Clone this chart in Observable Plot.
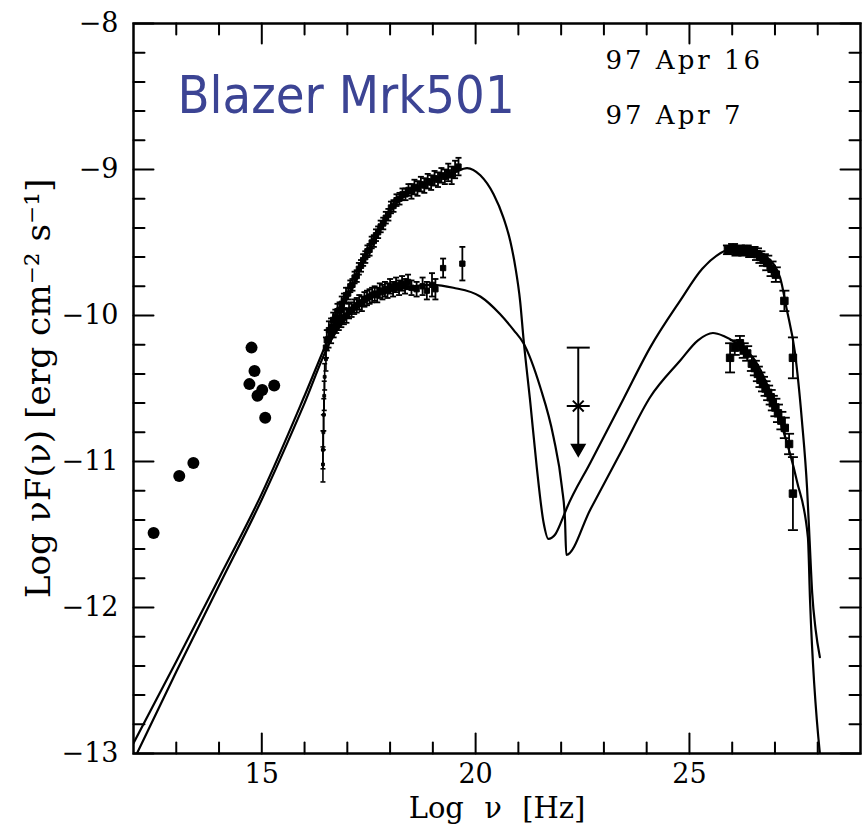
<!DOCTYPE html>
<html><head><meta charset="utf-8">
<script src="https://cdn.jsdelivr.net/npm/d3@7"></script>
<script src="https://cdn.jsdelivr.net/npm/@observablehq/plot@0.6"></script>
<style>
html,body{margin:0;padding:0;background:#fff;}
#chart svg{display:block;}
</style></head><body><div id="chart"></div>
<script>
// ---- tick values ----
const xMajor = [15, 20, 25];
const xMinor = [13, 14, 16, 17, 18, 19, 21, 22, 23, 24, 26, 27, 28];
const yMajor = [-13, -12, -11, -10, -9, -8];
const yMinor = [-12.8, -12.6, -12.4, -12.2, -11.8, -11.6, -11.4, -11.2, -10.8, -10.6, -10.4, -10.2,
                -9.8, -9.6, -9.4, -9.2, -8.8, -8.6, -8.4, -8.2];

// ---- model curve, 97 Apr 16 (log nu, log nuFnu) ----
const modelA_x = [12.0, 13.0, 14.0, 15.0, 16.0, 16.6, 17.0, 17.5, 18.0, 18.5, 19.0, 19.5, 19.8, 20.11, 20.42, 20.65,
  20.81, 20.93, 21.04, 21.12, 21.28, 21.43, 21.59, 21.70, 21.86, 22.02, 22.13, 22.68, 23.46, 24.08, 24.78, 25.3,
  25.88, 26.18, 26.5, 26.81, 27.12, 27.27, 27.47, 27.63, 27.75, 27.81, 27.87, 27.95, 28.05];
const modelA_y = [-12.93, -12.37, -11.80, -11.22, -10.55, -10.13, -9.88, -9.55, -9.28, -9.15, -9.07, -9.02, -8.99, -9.04, -9.17, -9.33,
  -9.49, -9.67, -9.90, -10.16, -10.60, -11.04, -11.42, -11.53, -11.50, -11.40, -11.32, -11.01, -10.57, -10.22, -9.90, -9.68,
  -9.55, -9.53, -9.55, -9.60, -9.74, -9.95, -10.26, -10.72, -11.18, -11.54, -11.90, -12.15, -12.34];

// ---- model curve, 97 Apr 7 ----
const modelB_x = [12.08, 13.0, 14.0, 15.0, 16.0, 16.6, 17.0, 17.37, 17.77, 18.17, 18.54, 19.0, 19.48, 20.11, 20.57,
  20.89, 21.12, 21.51, 21.82, 22.02, 22.09, 22.12, 22.68, 23.46, 24.08, 24.78, 25.2, 25.55, 25.8, 26.1, 26.56,
  27.12, 27.51, 27.77, 27.82, 28.05];
const modelB_y = [-13.0, -12.44, -11.85, -11.26, -10.60, -10.18, -10.01, -9.92, -9.85, -9.82, -9.80, -9.79, -9.81, -9.87, -9.99,
  -10.10, -10.19, -10.49, -10.83, -11.18, -11.40, -11.64, -11.33, -10.90, -10.56, -10.31, -10.17, -10.12, -10.14, -10.19, -10.32,
  -10.72, -11.13, -11.52, -11.95, -13.0];

// ---- radio / optical points ----
const lowX = [12.47, 13.07, 13.40, 14.76, 14.83, 14.71, 15.29, 15.01, 14.90, 15.08];
const lowY = [-11.49, -11.10, -11.01, -10.22, -10.38, -10.47, -10.48, -10.51, -10.55, -10.70];

// ---- X-ray data 97 Apr 16 [logNu, logNuFnu, err] ----
const xrayA = [[16.52,-10.17,0.07],[16.57,-10.10,0.06],[16.62,-10.08,0.06],[16.67,-10.03,0.05],[16.72,-10.01,0.05],
  [16.77,-9.97,0.05],[16.82,-9.96,0.05],[16.87,-9.92,0.05],[16.92,-9.90,0.05],[16.97,-9.86,0.05],[17.02,-9.85,0.04],
  [17.07,-9.80,0.04],[17.12,-9.79,0.04],[17.17,-9.74,0.04],[17.22,-9.73,0.04],[17.27,-9.68,0.04],[17.32,-9.66,0.04],
  [17.37,-9.62,0.04],[17.42,-9.60,0.04],[17.47,-9.56,0.04],[17.52,-9.55,0.04],[17.57,-9.50,0.04],[17.62,-9.49,0.04],
  [17.67,-9.45,0.04],[17.72,-9.43,0.04],[17.78,-9.39,0.04],[17.84,-9.37,0.04],[17.90,-9.33,0.04],[17.96,-9.31,0.04],
  [18.02,-9.26,0.04],[18.08,-9.25,0.04],[18.15,-9.21,0.04],[18.22,-9.20,0.04],[18.29,-9.17,0.04],[18.36,-9.17,0.04],
  [18.43,-9.14,0.04],[18.50,-9.15,0.05],[18.57,-9.12,0.05],[18.64,-9.13,0.05],[18.72,-9.10,0.05],[18.80,-9.11,0.05],
  [18.88,-9.08,0.05],[18.96,-9.09,0.05],[19.04,-9.06,0.05],[19.12,-9.07,0.05],[19.20,-9.04,0.05],[19.28,-9.05,0.05],
  [19.36,-9.02,0.06],[19.44,-9.04,0.06],[19.52,-9.00,0.06],[19.60,-8.98,0.06]];

// ---- X-ray data 97 Apr 7 ----
const xrayB = [[16.50,-10.22,0.07],[16.56,-10.16,0.06],[16.62,-10.13,0.06],[16.68,-10.10,0.05],[16.74,-10.07,0.05],
  [16.80,-10.05,0.05],[16.86,-10.03,0.05],[16.92,-10.01,0.05],[16.98,-10.00,0.05],[17.04,-9.97,0.05],[17.10,-9.96,0.05],
  [17.16,-9.94,0.05],[17.22,-9.93,0.05],[17.28,-9.91,0.05],[17.34,-9.92,0.05],[17.40,-9.89,0.05],[17.46,-9.88,0.05],
  [17.52,-9.87,0.05],[17.58,-9.86,0.05],[17.64,-9.85,0.05],[17.70,-9.86,0.05],[17.76,-9.83,0.05],[17.82,-9.84,0.05],
  [17.88,-9.82,0.05],[17.94,-9.83,0.05],[18.00,-9.80,0.05],[18.07,-9.82,0.05],[18.14,-9.79,0.05],[18.21,-9.81,0.05],
  [18.28,-9.78,0.05],[18.35,-9.80,0.05],[18.42,-9.77,0.05],[18.50,-9.81,0.05],[18.62,-9.82,0.05],[18.76,-9.80,0.06],
  [18.86,-9.83,0.06],[18.98,-9.79,0.08],[19.06,-9.82,0.07],[19.24,-9.675,0.065],[19.69,-9.645,0.115]];

// ---- low-energy LECS points (97 Apr 7) ----
const lecs = [[16.50,-10.30,0.08],[16.47,-10.42,0.09],[16.46,-10.55,0.10],[16.45,-10.68,0.11],
  [16.44,-10.80,0.12],[16.43,-10.92,0.13],[16.43,-11.02,0.12]];

// ---- TeV data 97 Apr 16 ----
const tevA = [[25.90,-9.55,0.03],[26.02,-9.54,0.03],[26.10,-9.56,0.03],[26.18,-9.55,0.03],[26.26,-9.56,0.03],
  [26.34,-9.55,0.03],[26.42,-9.57,0.03],[26.50,-9.56,0.03],[26.58,-9.58,0.04],[26.66,-9.60,0.04],[26.74,-9.62,0.04],
  [26.82,-9.64,0.05],[26.92,-9.68,0.05],[27.02,-9.72,0.05],[27.22,-9.90,0.07],[27.42,-10.29,0.14]];

// ---- TeV data 97 Apr 7 ----
const tevB = [[25.95,-10.29,0.10],[26.06,-10.22,0.05],[26.18,-10.19,0.05],[26.27,-10.24,0.05],[26.35,-10.26,0.05],
  [26.46,-10.33,0.05],[26.53,-10.36,0.05],[26.60,-10.40,0.05],[26.66,-10.44,0.05],[26.72,-10.47,0.05],[26.78,-10.50,0.05],
  [26.84,-10.53,0.05],[26.90,-10.56,0.05],[26.95,-10.60,0.05],[27.01,-10.63,0.06],[27.07,-10.67,0.06],[27.15,-10.72,0.06],
  [27.23,-10.77,0.07],[27.33,-10.88,0.07],[27.42,-11.22,0.25]];

// ---- upper limit ----
const ulX = [22.40];
const ulY = [-10.62];
const ulTop = [-10.22];
const ulTip = [-10.91];

// ---- labels ----
const titleText = ["Blazer Mrk501"];
const dateLabels = ["97 Apr 16", "97 Apr 7"];
const xLabel = "Log\u2002\u2009ν\u2002\u2009[Hz]";
const yLabel = "Log νF(ν) [erg cm⁻² s⁻¹]";

// ---- build records ----
const line = (xs, ys) => xs.map((x, i) => ({x, y: ys[i]}));
const rec = arr => arr.map(([x, y, e]) => ({x, y, lo: y - e, hi: y + e}));
const modelA = line(modelA_x, modelA_y);
const modelB = line(modelB_x, modelB_y);
const lowPts = line(lowX, lowY);
const sync = [...rec(xrayA), ...rec(xrayB)];
const lecsR = rec(lecs);
const tev = [...rec(tevA), ...rec(tevB)];
const ul = ulX.map((x, i) => ({x, y: ulY[i], top: ulTop[i], tip: ulTip[i]}));

const hcap = {draw(ctx, size) { const r = Math.sqrt(size / Math.PI); ctx.moveTo(-r, 0); ctx.lineTo(r, 0); }};
const tickShape = {draw(ctx, l) { ctx.moveTo(0, 0); ctx.lineTo(0, -l); }};

function errorMarks(data, r, capR, sw) {
  return [
    Plot.ruleX(data, {x: "x", y1: "lo", y2: "hi", stroke: "black", strokeWidth: sw}),
    Plot.dot(data, {x: "x", y: "lo", symbol: hcap, r: capR, stroke: "black", strokeWidth: sw}),
    Plot.dot(data, {x: "x", y: "hi", symbol: hcap, r: capR, stroke: "black", strokeWidth: sw}),
    Plot.dot(data, {x: "x", y: "y", symbol: "square", r, fill: "black", stroke: "black", strokeWidth: 1})
  ];
}

// inward tick marks drawn as plain vectors from the frame edges
const MAJ = 20, MIN = 11;
const tickV = (vals, ch, frameAnchor, rotate, length) =>
  Plot.vector(vals, {[ch]: d => d, frameAnchor, rotate, length, anchor: "start", shape: tickShape,
    stroke: "black", strokeWidth: 2});

const plot = Plot.plot({
  width: 865, height: 829,
  marginLeft: 133, marginRight: 5, marginTop: 23, marginBottom: 76,
  style: {fontFamily: "'DejaVu Serif', serif", fontSize: "27px", color: "black", background: "white"},
  x: {domain: [12, 29]},
  y: {domain: [-13, -8]},
  marks: [
    // tick labels
    Plot.axisX(xMajor, {anchor: "bottom", tickSize: 0, tickPadding: 10, label: null, tickFormat: d3.format("d")}),
    Plot.axisY(yMajor, {anchor: "left", tickSize: 0, tickPadding: 15, label: null, tickFormat: d3.format("d")}),
    // inward ticks on all four sides
    tickV(xMajor, "x", "bottom", 0, MAJ),
    tickV(xMinor, "x", "bottom", 0, MIN),
    tickV(xMajor, "x", "top", 180, MAJ),
    tickV(xMinor, "x", "top", 180, MIN),
    tickV(yMajor, "y", "left", 90, MAJ),
    tickV(yMinor, "y", "left", 90, MIN),
    tickV(yMajor, "y", "right", -90, MAJ),
    tickV(yMinor, "y", "right", -90, MIN),
    // model curves
    Plot.line(modelA, {x: "x", y: "y", curve: "monotone-x", stroke: "black", strokeWidth: 2.2, clip: true}),
    Plot.line(modelB, {x: "x", y: "y", curve: "monotone-x", stroke: "black", strokeWidth: 2.2, clip: true}),
    // data
    Plot.dot(lowPts, {x: "x", y: "y", r: 6, fill: "black"}),
    ...errorMarks(sync, 3, 3, 1.8),
    ...errorMarks(lecsR, 1.6, 2.5, 1.6),
    ...errorMarks(tev, 4.2, 5, 1.8),
    // upper limit with arrow
    Plot.ruleX(ul, {x: "x", y1: "top", y2: "y", stroke: "black", strokeWidth: 2}),
    Plot.ruleX(ul, {x: "x", y1: "y", y2: "tip", stroke: "black", strokeWidth: 2}),
    Plot.dot(ul, {x: "x", y: "top", symbol: hcap, r: 11.5, stroke: "black", strokeWidth: 2}),
    Plot.dot(ul, {x: "x", y: "y", symbol: hcap, r: 11.5, stroke: "black", strokeWidth: 2}),
    Plot.dot(ul, {x: "x", y: "y", symbol: "times", r: 5, stroke: "black", strokeWidth: 2}),
    Plot.dot(ul, {x: "x", y: "tip", symbol: "triangle", rotate: 180, r: 5, fill: "black", stroke: "black"}),
    // frame
    Plot.frame({stroke: "black", strokeWidth: 2.5}),
    // texts
    Plot.text(titleText, {frameAnchor: "top-left", dx: 44, dy: 73, textAnchor: "start", lineAnchor: "middle",
      fontSize: 52, fill: "#3c4494", fontFamily: "'DejaVu Sans Condensed', 'DejaVu Sans', sans-serif"}),
    Plot.text([dateLabels[0]], {frameAnchor: "top-left", dx: 472, dy: 27, textAnchor: "start", lineAnchor: "top", fontSize: 26}),
    Plot.text([dateLabels[1]], {frameAnchor: "top-left", dx: 472, dy: 82, textAnchor: "start", lineAnchor: "top", fontSize: 26}),
    Plot.text([xLabel], {frameAnchor: "bottom", dy: 55, textAnchor: "middle", lineAnchor: "middle", fontSize: 29}),
    Plot.text([yLabel], {frameAnchor: "left", dx: -94, rotate: -90, textAnchor: "middle", lineAnchor: "middle", fontSize: 30})
  ]
});

document.getElementById("chart").append(plot);
const texts = d3.select(plot).selectAll("text");
texts.filter(function() { return this.textContent.startsWith("97 Apr"); }).style("letter-spacing", "3px");
// fit the rotated y label to the length it has in the reference
texts.filter(function() { return this.textContent === yLabel; }).each(function() {
  const len = this.getComputedTextLength();
  if (len > 0) d3.select(this).attr("font-size", (30 * 420 / len).toFixed(1));
});
</script></body></html>
